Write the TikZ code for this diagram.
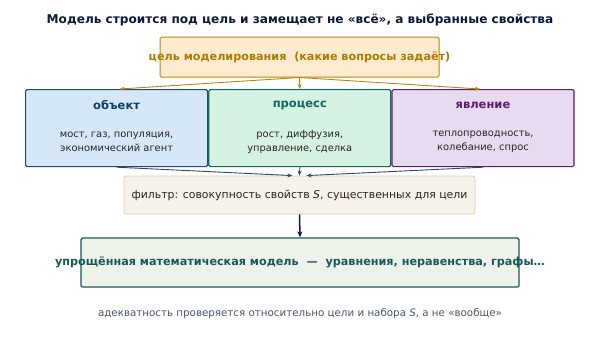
\documentclass[tikz,border=0pt]{standalone}
\usepackage{fontspec}
\setmainfont{DejaVu Sans}
\usetikzlibrary{arrows.meta,positioning}
\definecolor{mdnavy}{HTML}{0B1A3A}
\definecolor{mdgold}{HTML}{B8860B}
\definecolor{mdgoldtext}{HTML}{A87C00}
\definecolor{mdgoldfill}{HTML}{FDEBD0}
\definecolor{mdblue}{HTML}{1A4E7A}
\definecolor{mdbluetext}{HTML}{0E3D66}
\definecolor{mdbluefill}{HTML}{D6E8F7}
\definecolor{mdteal}{HTML}{0E6B63}
\definecolor{mdtealfill}{HTML}{D5F2E3}
\definecolor{mdpurple}{HTML}{5B1F6E}
\definecolor{mdpurplefill}{HTML}{E8DAEF}
\definecolor{mdslate}{HTML}{34495E}
\definecolor{mdtan}{HTML}{DCCDB5}
\definecolor{mdtanfill}{HTML}{F6F2EA}
\definecolor{mdmodel}{HTML}{17595A}
\definecolor{mdmodelfill}{HTML}{EEF3EA}
\definecolor{mdfoot}{HTML}{4A5568}

\begin{document}
\begin{tikzpicture}[
  x=1pt, y=-1pt,
  kind/.style={rectangle, draw, line width=1.2pt, rounded corners=1.5pt, minimum width=182pt, minimum height=77pt, inner sep=0pt},
  kindtitle/.style={font=\fontsize{11.5}{14}\selectfont\bfseries},
  kinddesc/.style={align=center, font=\fontsize{9.9}{14}\selectfont, text=black!85},
  goalarrow/.style={-{Stealth[length=5pt,width=4pt]}, line width=0.9pt, mdgold},
  filtarrow/.style={-{Stealth[length=5pt,width=4pt]}, line width=0.9pt, mdslate}
]
\useasboundingbox (0,0) rectangle (600,351);

% Title
\node[font=\fontsize{12.1}{14}\selectfont\bfseries, text=mdnavy] (title) at (300,20) {Модель строится под цель и замещает не «всё», а выбранные свойства};

% Goal
\node[rectangle, draw=mdgold, fill=mdgoldfill, line width=1pt, rounded corners=1.5pt, minimum width=279pt, minimum height=40pt,
  label={[font=\fontsize{11.2}{13}\selectfont\bfseries, text=mdgoldtext]center:цель моделирования\ \ (какие вопросы задаёт)}] (goal) at (299.5,57) {};

% Three kinds
\node[kind, draw=mdblue, fill=mdbluefill, anchor=north west] (obj) at (25,89) {};
\node[kind, draw=mdteal, fill=mdtealfill, right=0pt of obj] (proc) {};
\node[kind, draw=mdpurple, fill=mdpurplefill, right=0pt of proc] (phen) {};

\node[kindtitle, text=mdbluetext] (objtitle) at ([yshift=-16pt]obj.north) {объект};
\node[kindtitle, text=mdteal] (proctitle) at ([yshift=-16pt]proc.north) {процесс};
\node[kindtitle, text=mdpurple] (phentitle) at ([yshift=-16pt]phen.north) {явление};

\node[kinddesc] (objdesc) at ([yshift=-53pt]obj.north) {мост, газ, популяция,\\экономический агент};
\node[kinddesc] (procdesc) at ([yshift=-53pt]proc.north) {рост, диффузия,\\управление, сделка};
\node[kinddesc] (phendesc) at ([yshift=-53pt]phen.north) {теплопроводность,\\колебание, спрос};

% Filter
\node[rectangle, draw=mdtan, fill=mdtanfill, line width=0.8pt, rounded corners=2pt, minimum width=351pt, minimum height=38pt,
  font=\fontsize{10.9}{12}\selectfont, text=black!85] (filt) at (299.5,195) {фильтр: совокупность свойств \textit{S}, существенных для цели};

% Model
\node[rectangle, draw=mdmodel, fill=mdmodelfill, line width=1.3pt, rounded corners=1.5pt, minimum width=438pt, minimum height=49pt,
  label={[font=\fontsize{11.2}{13}\selectfont\bfseries, text=mdmodel]center:упрощённая математическая модель\ \ —\ \ уравнения, неравенства, графы…}] (model) at (300,262.5) {};

% Footer
\node[font=\fontsize{10.3}{12}\selectfont, text=mdfoot] (foot) at (300,314) {адекватность проверяется относительно цели и набора \textit{S}, а не «вообще»};

% Arrows
\draw[goalarrow] (goal.south) -- ([xshift=3pt]obj.north);
\draw[goalarrow] (goal.south) -- (proc.north);
\draw[goalarrow] (goal.south) -- ([xshift=-3pt]phen.north);
\draw[filtarrow] (obj.south) -- ([xshift=-7pt]filt.north);
\draw[filtarrow] (proc.south) -- (filt.north);
\draw[filtarrow] (phen.south) -- ([xshift=7pt]filt.north);
\draw[-{Stealth[length=6pt,width=5pt]}, line width=1.5pt, mdnavy] (filt.south) -- (model.north);

\end{tikzpicture}
\end{document}
